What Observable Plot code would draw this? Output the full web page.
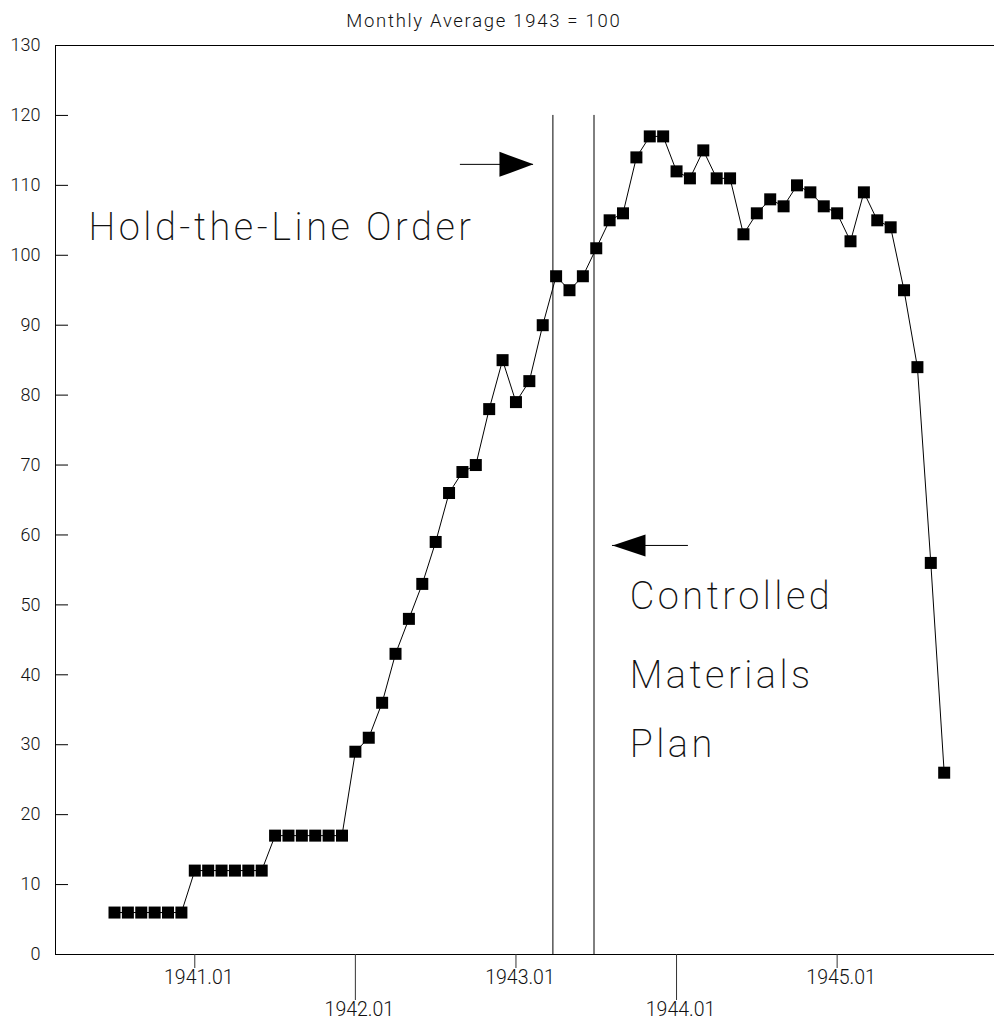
<!DOCTYPE html>
<html>
<head>
<meta charset="utf-8">
<script src="https://cdn.jsdelivr.net/npm/d3@7"></script>
<script src="https://cdn.jsdelivr.net/npm/@observablehq/plot@0.6"></script>
<style>
  html, body { margin: 0; padding: 0; background: #fff; }
</style>
</head>
<body>
<script>
// ---- data ----
const startYear = 1940;
const startMonth = 7; // series begins July 1940
const values = [
  6, 6, 6, 6, 6, 6,                                   // 1940.07 – 1940.12
  12, 12, 12, 12, 12, 12, 17, 17, 17, 17, 17, 17,     // 1941
  29, 31, 36, 43, 48, 53, 59, 66, 69, 70, 78, 85,     // 1942
  79, 82, 90, 97, 95, 97, 101, 105, 106, 114, 117, 117, // 1943
  112, 111, 115, 111, 111, 103, 106, 108, 107, 110, 109, 107, // 1944
  106, 102, 109, 105, 104, 95, 84, 56, 26             // 1945.01 – 1945.09
];
const yTicks = [0, 10, 20, 30, 40, 50, 60, 70, 80, 90, 100, 110, 120, 130];
const xTicksUpper = [1941, 1943, 1945];
const xTicksLower = [1942, 1944];
const eventDates = [1943.23, 1943.486];       // Hold-the-Line Order, Controlled Materials Plan
const eventTop = 120;
const title = "Monthly Average 1943 = 100";
const notes = [
  {x: 1940.338, y: 103.9, text: "Hold-the-Line Order"},
  {x: 1943.708, y: 51.2, text: "Controlled"},
  {x: 1943.708, y: 39.8, text: "Materials"},
  {x: 1943.708, y: 30.0, text: "Plan"}
];
const arrowsRight = [{x1: 1942.654, x2: 1943.109, y: 113}];
const arrowsLeft = [{x1: 1944.074, x2: 1943.601, y: 58.5}];

const series = values.map((v, i) => ({
  x: startYear + (startMonth - 1 + i) / 12,
  y: v
}));

const squareSym = {draw(ctx) { ctx.rect(-6, -6, 12, 12); }};
const headRight = {draw(ctx) { ctx.moveTo(0, 0); ctx.lineTo(-34, -12.5); ctx.lineTo(-34, 12.5); ctx.closePath(); }};
const headLeft = {draw(ctx) { ctx.moveTo(0, 0); ctx.lineTo(33, -11); ctx.lineTo(33, 11); ctx.closePath(); }};

const xDomain = [1940.1326, 1945.98];

const chart = Plot.plot({
  width: 994,
  height: 1025,
  marginLeft: 55,
  marginRight: 0,
  marginTop: 45,
  marginBottom: 71,
  style: {fontFamily: "Roboto, 'DejaVu Sans', sans-serif", fontWeight: 300, fontSize: "18px", background: "#fff", color: "#000"},
  x: {domain: xDomain, label: null},
  y: {domain: [0, 130], label: null},
  marks: [
    // frame lines
    Plot.ruleY([0, 130], {stroke: "#000", strokeWidth: 1}),
    Plot.ruleX([xDomain[0]], {stroke: "#000", strokeWidth: 1}),
    // y axis: inward ticks + labels
    Plot.axisY(yTicks, {tickSize: 13, dx: 13, fill: "none", stroke: "#000", label: null}),
    Plot.axisY(yTicks, {tickSize: 0, tickPadding: 15, fontSize: 18, fill: "#111", label: null}),
    // x axis: staggered ticks and labels
    Plot.axisX(xTicksUpper, {tickSize: 14, fill: "none", stroke: "#333", label: null}),
    Plot.axisX(xTicksUpper, {tickSize: 14, tickPadding: 2, stroke: "none", dx: 4, fontSize: 19.5, fill: "#111", tickFormat: d => `${d}.01`, label: null}),
    Plot.axisX(xTicksLower, {tickSize: 46, fill: "none", stroke: "#333", label: null}),
    Plot.axisX(xTicksLower, {tickSize: 46, tickPadding: 2, stroke: "none", dx: 4, fontSize: 19.5, fill: "#111", tickFormat: d => `${d}.01`, label: null}),
    // event lines
    Plot.ruleX(eventDates, {y1: 0, y2: eventTop, stroke: "#000", strokeWidth: 1}),
    // series
    Plot.line(series, {x: "x", y: "y", stroke: "#000", strokeWidth: 1}),
    Plot.dot(series, {x: "x", y: "y", symbol: squareSym, fill: "#000", stroke: "none"}),
    // arrows
    Plot.ruleY(arrowsRight, {y: "y", x1: "x1", x2: "x2", stroke: "#000", strokeWidth: 1}),
    Plot.dot(arrowsRight, {x: "x2", y: "y", symbol: headRight, fill: "#000", stroke: "none"}),
    Plot.ruleY(arrowsLeft, {y: "y", x1: "x1", x2: "x2", stroke: "#000", strokeWidth: 1}),
    Plot.dot(arrowsLeft, {x: "x2", y: "y", symbol: headLeft, fill: "#000", stroke: "none"}),
    // annotations
    Plot.text(notes, {x: "x", y: "y", text: "text", textAnchor: "start", lineAnchor: "middle", fontSize: 38, fontWeight: 200, fill: "#111"}),
    // title
    Plot.text([title], {x: [1942.8], frameAnchor: "top", dy: -24, text: d => d, textAnchor: "middle", lineAnchor: "middle", fontSize: 18.5, fill: "#111"})
  ]
});

// letter-spacing for annotation and title text
chart.querySelectorAll("text").forEach(t => {
  const fs = parseFloat(t.closest("[font-size]")?.getAttribute("font-size") || "0");
  if (fs >= 38) t.style.letterSpacing = "3.5px";
  else if (fs === 18.5) t.style.letterSpacing = "1.7px";
});

document.body.append(chart);
</script>
</body>
</html>
